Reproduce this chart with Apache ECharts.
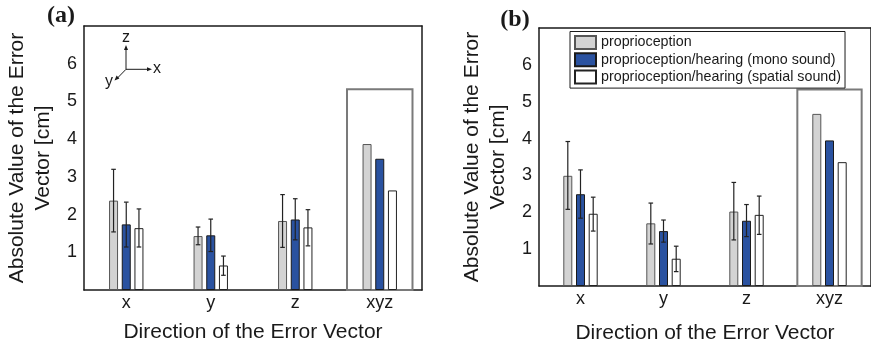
<!DOCTYPE html>
<html>
<head>
<meta charset="utf-8">
<script src="https://cdn.jsdelivr.net/npm/echarts@6/dist/echarts.min.js"></script>
<style>
  html, body { margin: 0; padding: 0; background: #fff; }
  #chart { width: 871px; height: 349px; }
</style>
</head>
<body>
<div id="chart"></div>
<script>
// categories and legend names
const categories = ['x', 'y', 'z', 'xyz'];
const seriesNames = ['proprioception', 'proprioception/hearing (mono sound)', 'proprioception/hearing (spatial sound)'];

// panel (a) means and error ranges [low, high]
const propA = [2.37, 1.43, 1.83, 3.87];
const monoA = [1.74, 1.45, 1.87, 3.48];
const spatialA = [1.64, 0.65, 1.66, 2.64];
const propErrA = [[1.54, 3.20], [1.20, 1.67], [1.13, 2.53]];
const monoErrA = [[1.14, 2.33], [1.02, 1.88], [1.33, 2.42]];
const spatialErrA = [[1.14, 2.15], [0.39, 0.90], [1.17, 2.13]];
const boxTopA = 5.32;

// panel (b)
const propB = [2.99, 1.70, 2.02, 4.67];
const monoB = [2.49, 1.49, 1.77, 3.95];
const spatialB = [1.96, 0.74, 1.93, 3.36];
const propErrB = [[2.08, 3.92], [1.14, 2.25], [1.25, 2.81]];
const monoErrB = [[1.84, 3.15], [1.19, 1.79], [1.34, 2.21]];
const spatialErrB = [[1.49, 2.41], [0.39, 1.08], [1.40, 2.44]];
const boxTopB = 5.33;

const fills = ['#d3d3d3', '#2a52a0', '#ffffff'];
const borders = ['#555555', '#1a1a1a', '#222222'];
const barW = 9;
const barStep = 12.7;
const ink = '#1a1a1a';
const sans = 'Liberation Sans';

const chart = echarts.init(document.getElementById('chart'));

function barSeries(i, values, g) {
  return {
    type: 'bar', name: seriesNames[i], xAxisIndex: g * 2, yAxisIndex: g * 2,
    data: values, barWidth: barW, barGap: ((barStep - barW) / barW * 100) + '%',
    itemStyle: { color: fills[i], borderColor: borders[i], borderWidth: 1 },
    z: 3, silent: true
  };
}

function errSeries(i, errs, g) {
  const offset = (i - 1) * barStep;
  return {
    type: 'custom', xAxisIndex: g * 2, yAxisIndex: g * 2, z: 5, silent: true,
    data: errs.map((e, k) => [k, e[0], e[1]]),
    renderItem: function (params, api) {
      const lo = api.coord([api.value(0), api.value(1)]);
      const hi = api.coord([api.value(0), api.value(2)]);
      const x = lo[0] + offset;
      const c = 2.3;
      const st = { stroke: '#222', lineWidth: 1.2 };
      return {
        type: 'group', children: [
          { type: 'line', shape: { x1: x, y1: lo[1], x2: x, y2: hi[1] }, style: st },
          { type: 'line', shape: { x1: x - c, y1: lo[1], x2: x + c, y2: lo[1] }, style: st },
          { type: 'line', shape: { x1: x - c, y1: hi[1], x2: x + c, y2: hi[1] }, style: st }
        ]
      };
    }
  };
}

function boxSeries(top, g) {
  return {
    type: 'custom', xAxisIndex: g * 2, yAxisIndex: g * 2, z: 1, silent: true,
    data: [[3, top]],
    renderItem: function (params, api) {
      const t = api.coord([api.value(0), api.value(1)]);
      const b = api.coord([api.value(0), 0]);
      const w = api.size([1, 0])[0] * 0.775;
      return {
        type: 'rect',
        shape: { x: t[0] - w / 2, y: t[1], width: w, height: b[1] - t[1] },
        style: { fill: 'none', stroke: '#7a7a7a', lineWidth: 2 }
      };
    }
  };
}

const axisLine = { show: true, onZero: false, lineStyle: { color: ink, width: 1.5 } };
const tick = { inside: true, length: 5, lineStyle: { color: ink } };

function axesFor(g, nameGapX) {
  const xs = [
    {
      type: 'category', gridIndex: g, data: categories, position: 'bottom',
      axisLine: axisLine, axisTick: Object.assign({ alignWithLabel: true }, tick),
      axisLabel: { fontFamily: sans, fontSize: 18, color: ink, margin: 4 },
      name: 'Direction of the Error Vector', nameLocation: 'middle', nameGap: nameGapX,
      nameTextStyle: { fontFamily: sans, fontSize: 21, color: ink }
    },
    {
      type: 'category', gridIndex: g, data: categories, position: 'top',
      axisLine: axisLine, axisTick: Object.assign({ alignWithLabel: true }, tick),
      axisLabel: { show: false }
    }
  ];
  const ys = [
    {
      type: 'value', gridIndex: g, min: 0, max: 7, interval: 1, position: 'left',
      axisLine: axisLine, splitLine: { show: false }, axisTick: tick,
      axisLabel: { fontFamily: sans, fontSize: 18, color: ink, margin: 7, showMinLabel: false, showMaxLabel: false },
      name: 'Absolute Value of the Error\nVector [cm]', nameLocation: 'middle', nameRotate: 90, nameGap: 28,
      nameTextStyle: { fontFamily: sans, fontSize: 21, lineHeight: 26, color: ink, align: 'center' }
    },
    {
      type: 'value', gridIndex: g, min: 0, max: 7, interval: 1, position: 'right',
      axisLine: axisLine, splitLine: { show: false }, axisTick: tick,
      axisLabel: { show: false }
    }
  ];
  return { xs, ys };
}

const axA = axesFor(0, 32);
const axB = axesFor(1, 37);

// little coordinate frame glyph in panel (a), and panel letters
const st = { stroke: ink, lineWidth: 1 };
const glyph = [
  { type: 'line', shape: { x1: 126, y1: 69.3, x2: 126, y2: 48 }, style: st },
  { type: 'polygon', shape: { points: [[126, 45], [124, 50], [128, 50]] }, style: { fill: ink } },
  { type: 'line', shape: { x1: 126, y1: 69.3, x2: 149, y2: 69.3 }, style: st },
  { type: 'polygon', shape: { points: [[152, 69.3], [147, 67.3], [147, 71.3]] }, style: { fill: ink } },
  { type: 'line', shape: { x1: 126, y1: 69.3, x2: 117, y2: 78.5 }, style: st },
  { type: 'polygon', shape: { points: [[114.5, 80.5], [119.4, 78.4], [116.6, 75.6]] }, style: { fill: ink } },
  { type: 'text', x: 126, y: 38, style: { text: 'z', font: '16px "Liberation Sans"', fill: ink, align: 'center', verticalAlign: 'middle' } },
  { type: 'text', x: 153, y: 69, style: { text: 'x', font: '16px "Liberation Sans"', fill: ink, align: 'left', verticalAlign: 'middle' } },
  { type: 'text', x: 109, y: 82, style: { text: 'y', font: '16px "Liberation Sans"', fill: ink, align: 'center', verticalAlign: 'middle' } },
  { type: 'text', x: 61, y: 16, style: { text: '(a)', font: 'bold 24px "Liberation Serif"', fill: ink, align: 'center', verticalAlign: 'middle' } },
  { type: 'text', x: 515, y: 20, style: { text: '(b)', font: 'bold 24px "Liberation Serif"', fill: ink, align: 'center', verticalAlign: 'middle' } }
];

chart.setOption({
  backgroundColor: '#fff',
  animation: false,
  grid: [
    { left: 84, top: 26, width: 338, height: 264 },
    { left: 539, top: 28, width: 337, height: 262 }
  ],
  xAxis: axA.xs.concat(axB.xs),
  yAxis: axA.ys.concat(axB.ys),
  legend: {
    data: seriesNames, orient: 'vertical', left: 570, top: 31.5,
    itemWidth: 21, itemHeight: 13, itemGap: 2.3,
    padding: [3.5, 4, 3.5, 4], borderColor: ink, borderWidth: 1,
    backgroundColor: '#fff', icon: 'rect', selectedMode: false,
    textStyle: { fontFamily: sans, fontSize: 14.3, lineHeight: 15, color: ink }
  },
  graphic: glyph,
  series: [
    boxSeries(boxTopA, 0),
    barSeries(0, propA, 0), barSeries(1, monoA, 0), barSeries(2, spatialA, 0),
    errSeries(0, propErrA, 0), errSeries(1, monoErrA, 0), errSeries(2, spatialErrA, 0),
    boxSeries(boxTopB, 1),
    barSeries(0, propB, 1), barSeries(1, monoB, 1), barSeries(2, spatialB, 1),
    errSeries(0, propErrB, 1), errSeries(1, monoErrB, 1), errSeries(2, spatialErrB, 1)
  ]
});
</script>
</body>
</html>
